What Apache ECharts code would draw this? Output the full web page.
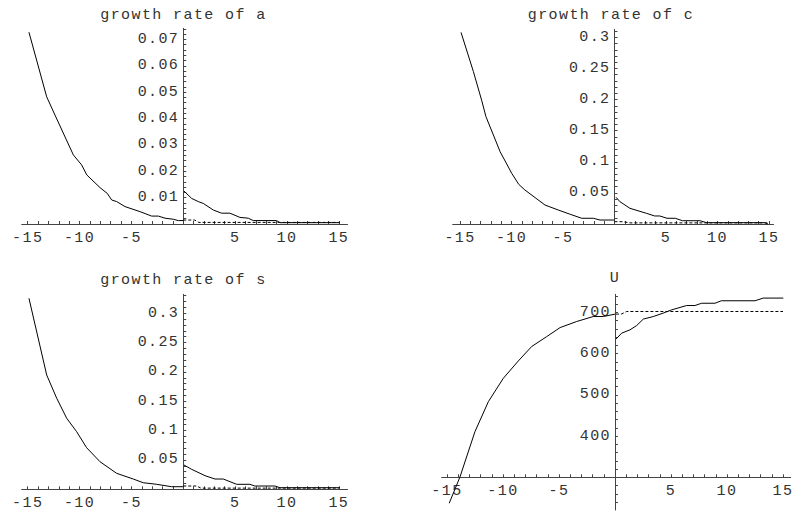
<!DOCTYPE html>
<html><head><meta charset="utf-8">
<script src="https://cdn.jsdelivr.net/npm/echarts@6/dist/echarts.min.js"></script>
<style>html,body{margin:0;padding:0;background:#fff}#c{width:795px;height:513px;letter-spacing:1.4px}</style>
</head><body><div id="c"></div><script>
// ---- titles ----
const titles = ['growth rate of a', 'growth rate of c', 'growth rate of s', 'U'];

// ---- x tick labels (shared) ----
const xTickLabels = [-15, -10, -5, 5, 10, 15];

// ---- y tick labels per panel ----
const aTickLabels = [0.01, 0.02, 0.03, 0.04, 0.05, 0.06, 0.07];
const cTickLabels = [0.05, 0.1, 0.15, 0.2, 0.25, 0.3];
const sTickLabels = [0.05, 0.1, 0.15, 0.2, 0.25, 0.3];
const uTickLabels = [400, 500, 600, 700];

// ---- growth rate of a ----
const aSolidLeft = [[-14.88,0.0727],[-13.17,0.0482],[-12.37,0.0413],[-10.6,0.0262],[-9.8,0.0224],[-9.3,0.0186],[-8.03,0.0138],[-7.33,0.0116],[-6.9,0.0091],[-6.42,0.0085],[-5.62,0.0066],[-4.18,0.0047],[-3.05,0.0030],[-2.4,0.0030],[-1.76,0.0022],[-0.96,0.0018],[-0.48,0.0013],[0,0.0013]];
const aSolidRight = [[0.07,0.0125],[0.81,0.0097],[1.45,0.0085],[1.93,0.0078],[2.9,0.0053],[3.7,0.0041],[4.5,0.0041],[5.47,0.0025],[6.27,0.0022],[6.75,0.0013],[9.0,0.0013],[9.33,0.0005],[15.1,0.0005]];
const aDashed = [[0,0.0015],[1.1,0.0015],[1.5,0.0006],[15,0.0006]];

// ---- growth rate of c ----
const cSolidLeft = [[-14.9,0.308],[-13.7,0.245],[-12.9,0.199],[-12.48,0.1725],[-11.1,0.116],[-9.98,0.0815],[-9.3,0.0638],[-8.7,0.0547],[-6.75,0.0305],[-5.46,0.0225],[-4.3,0.0156],[-3.18,0.0092],[-2.06,0.0092],[-1.4,0.0064],[0,0.0064]];
const cSolidRight = [[0.15,0.0429],[0.53,0.0359],[1.5,0.0252],[3.1,0.0172],[3.9,0.0129],[4.4,0.0129],[5.1,0.0092],[5.9,0.0092],[6.6,0.0053],[8.3,0.0053],[8.95,0.0021],[14.6,0.0021],[14.9,0]];
const cDashed = [[0,0.0037],[0.8,0.0037],[1.5,0.0018],[15,0.0018]];

// ---- growth rate of s ----
const sSolidLeft = [[-14.88,0.3254],[-13.17,0.1947],[-12.2,0.155],[-11.24,0.121],[-10.28,0.0981],[-9.32,0.0709],[-8.03,0.047],[-6.42,0.0272],[-4.82,0.0175],[-3.86,0.0112],[-2.57,0.0085],[-1.12,0.0044],[0,0.0044]];
const sSolidRight = [[0.07,0.0414],[0.81,0.034],[2.1,0.0232],[3.06,0.0175],[3.86,0.0175],[5.15,0.0085],[6.43,0.0085],[6.9,0.0056],[8.84,0.0056],[9.33,0.0027],[15.1,0.0027]];
const sDashed = [[0,0.0056],[1.3,0.0056],[1.7,0.002],[15,0.002]];

// ---- U ----
const uSolidLeft = [[-14.8,237],[-13.84,300.7],[-12.5,410.7],[-11.3,483.5],[-9.97,540],[-8.63,582],[-7.44,617],[-6.1,641],[-4.9,663],[-3.42,677.7],[-1.94,689.8],[-1.04,689.8],[0,695.6]];
const uSolidRight = [[0.09,635],[0.6,649.5],[1.34,657.5],[1.94,668],[2.53,683.5],[3.42,689.8],[4.3,698],[5.06,706],[6.4,716.5],[7.14,716.5],[7.74,722],[8.93,722],[9.5,728],[12.5,728],[13.24,734.5],[15.03,734.5]];
const uDashed = [[0.09,695.6],[0.6,696],[1.04,702],[15,702]];

// ---- layout ----
const FONT = 'Liberation Mono';
const TXT = '#333';
const AX = '#444';
function range(a, b, step) { const r = []; const n = Math.round((b - a) / step); for (let i = 0; i <= n; i++) r.push(+(a + i * step).toFixed(6)); return r; }
const xMinorTicks = range(-15, 15, 1);

const panels = [
  { grid: { left: 21.7, top: 28.3, width: 325.8, height: 195.7 }, x: [-15.58, 15.84], y: [0, 0.0742], yl: aTickLabels, yt: range(0.002, 0.074, 0.002), xOff: 0, series: [aSolidLeft, aSolidRight, aDashed], title: [183.5, 15] },
  { grid: { left: 452.7, top: 29.3, width: 320.8, height: 194.7 }, x: [-15.71, 15.44], y: [0, 0.313], yl: cTickLabels, yt: range(0.01, 0.31, 0.01), xOff: 0, series: [cSolidLeft, cSolidRight, cDashed], title: [611, 15] },
  { grid: { left: 21.7, top: 294.3, width: 325.8, height: 195 }, x: [-15.58, 15.84], y: [0, 0.3322], yl: sTickLabels, yt: range(0.01, 0.33, 0.01), xOff: 0, series: [sSolidLeft, sSolidRight, sDashed], title: [183.5, 280] },
  { grid: { left: 441.7, top: 294.3, width: 349, height: 215.7 }, x: [-15.47, 15.69], y: [220.6, 743.7], yl: uTickLabels, yt: range(240, 740, 20), xOff: -32.7, series: [uSolidLeft, uSolidRight, uDashed], title: [615, 278.5] }
];

const fmt = v => String(+(+v).toFixed(4));
const option = {
  animation: false,
  backgroundColor: '#fff',
  textStyle: { fontFamily: FONT },
  grid: [], xAxis: [], yAxis: [], series: [],
  graphic: []
};
panels.forEach((p, i) => {
  option.grid.push(Object.assign({ containLabel: false, outerBoundsMode: 'none' }, p.grid));
  // pixel distance from grid left edge to x = 0, used to place the y axis on x = 0
  const yOff = -((0 - p.x[0]) / (p.x[1] - p.x[0]) * p.grid.width);
  option.xAxis.push({
    type: 'value', gridIndex: i, min: p.x[0], max: p.x[1], position: 'bottom', offset: p.xOff,
    axisLine: { show: true, onZero: false, lineStyle: { color: AX, width: 1 } },
    axisTick: { show: true, inside: true, length: 3, customValues: xMinorTicks, lineStyle: { color: AX } },
    axisLabel: { show: true, customValues: xTickLabels, margin: 7, color: TXT, fontFamily: FONT, fontSize: 15, formatter: fmt },
    splitLine: { show: false }
  });
  option.yAxis.push({
    type: 'value', gridIndex: i, min: p.y[0], max: p.y[1], position: 'left', offset: yOff,
    axisLine: { show: true, onZero: false, lineStyle: { color: AX, width: 1 } },
    axisTick: { show: true, inside: true, length: 3, customValues: p.yt, lineStyle: { color: AX } },
    axisLabel: { show: true, customValues: p.yl, margin: 4, color: TXT, fontFamily: FONT, fontSize: 15, formatter: fmt },
    splitLine: { show: false }
  });
  p.series.forEach((d, k) => {
    option.series.push({
      type: 'line', xAxisIndex: i, yAxisIndex: i, data: d, showSymbol: false, symbol: 'none',
      clip: false, silent: true,
      lineStyle: { color: '#000', width: 1, type: k === 2 ? [3, 2] : 'solid' }
    });
  });
  option.graphic.push({
    type: 'text', x: p.title[0], y: p.title[1], silent: true,
    style: { text: titles[i], fill: TXT, font: '15px "' + FONT + '"', textAlign: 'center', textVerticalAlign: 'middle' }
  });
});
const chart = echarts.init(document.getElementById('c'), null, { renderer: 'svg', width: 795, height: 513 });
chart.setOption(option);
</script></body></html>
